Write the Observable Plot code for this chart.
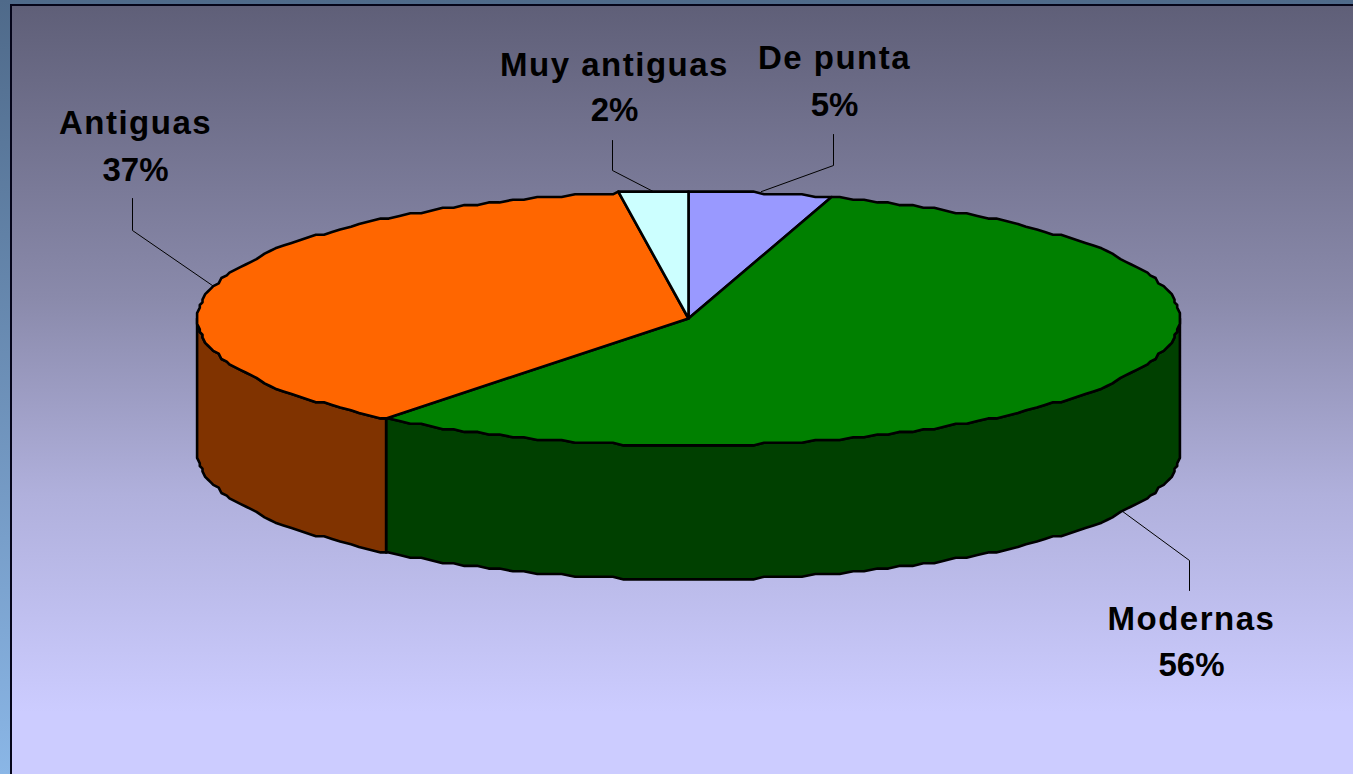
<!DOCTYPE html>
<html lang="es">
<head>
<meta charset="utf-8">
<script src="https://cdn.jsdelivr.net/npm/d3@7"></script>
<script src="https://cdn.jsdelivr.net/npm/@observablehq/plot@0.6"></script>
<style>
  html, body { margin: 0; padding: 0; width: 1353px; height: 774px; overflow: hidden; }
  body { position: relative; background: linear-gradient(to bottom, #4f6a8a, #8ab6e6); }
  #panel {
    position: absolute; left: 10px; top: 4px; right: 0; bottom: 0;
    border-left: 2px solid #05051a; border-top: 2px solid #05051a;
    background: linear-gradient(to bottom, #5f5f78 0px, #8a8aab 292px, #b0b0dc 489px, #ccccff 706px);
  }
  #chart { position: absolute; left: 0; top: 0; }
</style>
</head>
<body>
<div id="panel"></div>
<div id="chart"></div>
<script>
// Slices, clockwise from 12 o'clock
const categories = ["De punta", "Modernas", "Antiguas", "Muy antiguas"];
const shares = [4.7, 55.9, 37.1, 2.3];
const topColors = ["#9999ff", "#008000", "#ff6600", "#ccffff"];
const wallColors = ["#4d4d80", "#004000", "#803300", "#668080"];

// Pie geometry on the chart's unit scales
const W = 1353, H = 774;
const cx = 688, cy = 318, rx = 491, ry = 127, depthPx = 134;
const ux = px => (px - cx) / rx;
const uy = py => (py - cy) / ry;
const depth = depthPx / ry;
// The reference outline is a coarse, low-resolution polygon: snap to its grid
const gridPx = 2.7;
const stepDeg = 1.5;
const snap = (v, r) => (Math.round((v * r) / gridPx) * gridPx) / r;

// Label placement (pixels in the page)
const labelKnees = [[833, 165], [1189, 560], [132, 230], [612, 170]];
const labelEnds = [134, 590, 198, 140];
const labelX = [834, 1191, 135, 614];
const nameBase = [68, 629, 133, 75];
const pctBase = [115, 675, 180, 120];

const total = d3.sum(shares);
const cum = d3.cumsum(shares);
const slices = categories.map((name, i) => ({
  name, i,
  start: ((i ? cum[i - 1] : 0) / total) * 360,
  end: (cum[i] / total) * 360
}));
const pt = (deg, dz = 0) => {
  const a = (deg * Math.PI) / 180;
  return { x: snap(Math.sin(a), rx), y: snap(-Math.cos(a), ry) + dz };
};
// Arc vertices sit on a fixed angular grid, so the top and the wall share them
const arc = (a0, a1, dz = 0) => {
  const lo = Math.min(a0, a1), hi = Math.max(a0, a1);
  const inner = d3.range(Math.floor(lo / stepDeg) + 1, Math.ceil(hi / stepDeg)).map(k => k * stepDeg);
  const angles = [lo, ...inner, hi];
  if (a0 > a1) angles.reverse();
  return angles.map(a => pt(a, dz));
};

// Side walls: only the front half of the disc (90deg..270deg) is visible
const walls = slices
  .map(s => ({ ...s, a0: Math.max(s.start, 90), a1: Math.min(s.end, 270) }))
  .filter(s => s.a1 > s.a0)
  .map(s => ({
    color: wallColors[s.i],
    pts: [...arc(s.a0, s.a1), ...arc(s.a1, s.a0, depth)]
  }));

const tops = slices.map(s => ({
  color: topColors[s.i],
  pts: [{ x: 0, y: 0 }, ...arc(s.start, s.end)]
}));

const leaders = slices.map(s => {
  const mid = (s.start + s.end) / 2;
  const front = s.name === "Modernas";
  const p0 = pt(mid, front ? depth : 0);
  const [kx, ky] = labelKnees[s.i];
  return [p0, { x: ux(kx), y: uy(ky) }, { x: ux(kx), y: uy(labelEnds[s.i]) }];
});

const polygon = d =>
  Plot.line(d.pts, {
    x: "x", y: "y", fill: d.color, stroke: "#000", strokeWidth: 2.6,
    curve: "linear-closed", strokeLinejoin: "round"
  });

const labels = slices.map(s => ({
  name: s.name,
  pct: d3.format(".0f")(shares[s.i]) + "%",
  x: ux(labelX[s.i]),
  yName: uy(nameBase[s.i]),
  yPct: uy(pctBase[s.i])
}));

const textOpts = {
  x: "x", textAnchor: "middle", lineAnchor: "bottom", fill: "#000",
  fontFamily: "'Liberation Sans', Arial, sans-serif", fontWeight: "bold", fontSize: 33
};

const plot = Plot.plot({
  width: W, height: H,
  margin: 0,
  style: { background: "transparent" },
  x: { axis: null, domain: [-1, 1], range: [cx - rx, cx + rx] },
  y: { axis: null, domain: [-1, 1], range: [cy - ry, cy + ry] },
  marks: [
    ...leaders.map(l => Plot.line(l, { x: "x", y: "y", stroke: "#000", strokeWidth: 1, curve: "linear" })),
    ...walls.map(polygon),
    ...tops.map(polygon),
    Plot.text(labels, {
      ...textOpts, y: "yName", text: "name",
      render(index, scales, values, dims, context, next) {
        const g = next(index, scales, values, dims, context);
        g.style.letterSpacing = "1.5px";
        return g;
      }
    }),
    Plot.text(labels, { ...textOpts, y: "yPct", text: "pct" })
  ]
});
document.getElementById("chart").appendChild(plot);
</script>
</body>
</html>
